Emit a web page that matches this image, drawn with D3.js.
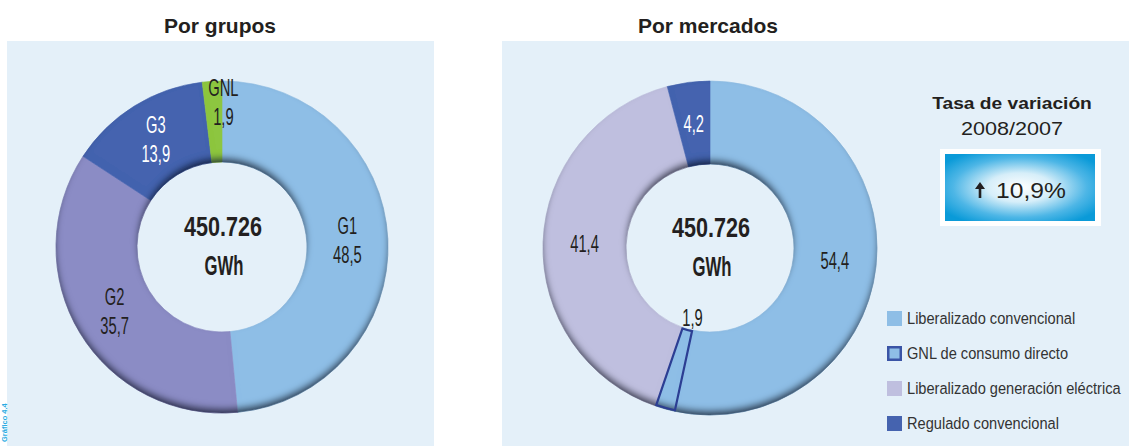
<!DOCTYPE html>
<html>
<head>
<meta charset="utf-8">
<script src="https://cdn.jsdelivr.net/npm/d3@7"></script>
<style>
  html, body { margin: 0; padding: 0; background: #ffffff; overflow: hidden; }
  text { font-family: "Liberation Sans", Arial, sans-serif; }
</style>
</head>
<body>
<svg id="chart" width="1129" height="446"></svg>
<script>
// Gas demand, share by supplier group (%)
const groupNames  = ["G1", "G2", "G3", "GNL"];
const groupShares = [48.5, 35.7, 13.9, 1.9];

// Gas demand, share by market (%)
const marketNames  = ["Liberalizado convencional", "GNL de consumo directo",
                      "Liberalizado generación eléctrica", "Regulado convencional"];
const marketShares = [54.4, 1.9, 41.4, 4.2];

// Totals and year-on-year change
const totalGWh      = 450726;
const totalUnit     = "GWh";
const variationRate = 10.9;
const variationTitle  = "Tasa de variación";
const variationPeriod = "2008/2007";

const panelTitles = ["Por grupos", "Por mercados"];
const sideCaption = "Gráfico 4.4";

// Spanish number formatting (decimal comma, dot thousands)
const es = d3.formatLocale({ decimal: ",", thousands: ".", grouping: [3], currency: ["", " €"] });
const fmtShare = es.format(",.1f");
const fmtTotal = es.format(",d");

const W = 1129, H = 446;
const svg = d3.select("#chart");
const defs = svg.append("defs");

// Inner bevel: darkens the ring just above any edge that faces down
const bevel = defs.append("filter").attr("id", "bevel")
  .attr("x", "-20%").attr("y", "-20%").attr("width", "140%").attr("height", "140%");
bevel.append("feComponentTransfer").attr("in", "SourceAlpha").attr("result", "inv")
  .append("feFuncA").attr("type", "table").attr("tableValues", "1 0");
bevel.append("feOffset").attr("in", "inv").attr("dx", 0).attr("dy", -5).attr("result", "off");
bevel.append("feGaussianBlur").attr("in", "off").attr("stdDeviation", 3).attr("result", "blur");
bevel.append("feFlood").attr("flood-color", "#0d1b36").attr("flood-opacity", 0.9).attr("result", "col");
bevel.append("feComposite").attr("in", "col").attr("in2", "blur").attr("operator", "in").attr("result", "sh");
bevel.append("feComposite").attr("in", "sh").attr("in2", "SourceAlpha").attr("operator", "in").attr("result", "inner");
const merge = bevel.append("feMerge");
merge.append("feMergeNode").attr("in", "SourceGraphic");
merge.append("feMergeNode").attr("in", "inner");

// Glow for the variation badge
const glow = defs.append("radialGradient").attr("id", "badgeGlow")
  .attr("cx", "50%").attr("cy", "50%").attr("r", "62%");
glow.append("stop").attr("offset", "0%").attr("stop-color", "#ffffff");
glow.append("stop").attr("offset", "35%").attr("stop-color", "#d6eef9");
glow.append("stop").attr("offset", "72%").attr("stop-color", "#4db6e6");
glow.append("stop").attr("offset", "100%").attr("stop-color", "#0a9ad8");

const BG = "#e4f0f9";
const INK = "#231f20";

// Panels
svg.append("rect").attr("x", 7).attr("y", 41).attr("width", 427).attr("height", H - 41).attr("fill", BG);
svg.append("rect").attr("x", 502).attr("y", 41).attr("width", W - 502).attr("height", H - 41).attr("fill", BG);

// Panel titles
[[220, panelTitles[0]], [708, panelTitles[1]]].forEach(([x, t]) => {
  svg.append("text").attr("x", x).attr("y", 33).attr("text-anchor", "middle")
    .attr("font-size", 21).attr("font-weight", "bold").attr("fill", INK).text(t);
});

// Side caption in the left margin
svg.append("text")
  .attr("transform", "translate(6.5,442) rotate(-90)")
  .attr("font-size", 7.5).attr("font-weight", "bold").attr("fill", "#29abe2")
  .text(sideCaption);

// Condensed text helper: horizontal squeeze around the anchor point
function squeezed(parent, x, y, str, opts) {
  const g = parent.append("g").attr("transform", `translate(${x},${y})`);
  g.append("text")
    .attr("transform", `scale(${opts.sx},1)`)
    .attr("text-anchor", opts.anchor || "middle")
    .attr("font-size", opts.size)
    .attr("font-weight", opts.weight || "normal")
    .attr("fill", opts.fill || INK)
    .text(str);
  return g;
}

function donut(cfg) {
  const g = svg.append("g").attr("transform", `translate(${cfg.cx},${cfg.cy})`);
  const pie = d3.pie().sort(null).value(d => d.value).startAngle(0).endAngle(2 * Math.PI);
  const data = cfg.names.map((n, i) => ({ name: n, value: cfg.values[i], color: cfg.colors[i], i }));
  const arcs = pie(data);
  const total = d3.sum(cfg.values);
  const arc = d3.arc().innerRadius(cfg.ri).outerRadius(cfg.ro);

  const ring = g.append("g").attr("filter", "url(#bevel)");
  ring.selectAll("path").data(arcs).join("path")
    .attr("d", arc)
    .attr("fill", d => d.data.color)
    .attr("stroke", d => d.data.color)
    .attr("stroke-width", 0.6);

  // Outlined slices
  g.selectAll("path.outline").data(arcs.filter(d => cfg.outlined.includes(d.data.i))).join("path")
    .attr("class", "outline")
    .attr("d", d3.arc().innerRadius(cfg.ri + 1).outerRadius(cfg.ro - 1))
    .attr("fill", "none").attr("stroke", "#2c3e93").attr("stroke-width", 2.2);

  // Slice labels
  const midR = (cfg.ri + cfg.ro) / 2;
  arcs.forEach(d => {
    const share = d.value / total;
    const a = (d.startAngle + d.endAngle) / 2;
    let r = midR, dx = 0;
    if (share < 0.03) { r = cfg.smallR; dx = cfg.smallDx; }
    const x = r * Math.sin(a) + dx;
    const y = -r * Math.cos(a);
    const fill = cfg.lightText.includes(d.data.i) ? "#ffffff" : INK;
    const lbl = { sx: 0.64, size: 23, fill };
    if (cfg.showNames) {
      squeezed(g, x, y - 7, d.data.name, lbl);
      squeezed(g, x, y + 22, fmtShare(d.data.value), lbl);
    } else {
      squeezed(g, x, y + 8, fmtShare(d.data.value), lbl);
    }
  });

  // Total in the hole
  squeezed(g, 1, -11, fmtTotal(totalGWh), { sx: 0.8, size: 27, weight: "bold" });
  squeezed(g, 2, 28, totalUnit, { sx: 0.62, size: 27, weight: "bold" });
}

donut({
  cx: 222, cy: 247, ri: 85, ro: 166,
  names: groupNames, values: groupShares,
  colors: ["#8ebee6", "#8b8cc5", "#4563af", "#8dc641"],
  lightText: [2], outlined: [],
  showNames: true, smallR: 144, smallDx: 10
});

donut({
  cx: 710, cy: 248, ri: 84, ro: 167,
  names: marketNames, values: marketShares,
  colors: ["#8ebee6", "#8ebee6", "#bfbfdf", "#4563af"],
  lightText: [3], outlined: [1],
  showNames: false, smallR: 73, smallDx: 2
});

// Legend
const legendColors = ["#8ebee6", "#8ebee6", "#bfbfdf", "#4563af"];
const legend = svg.append("g").attr("transform", "translate(887,311)");
marketNames.forEach((n, i) => {
  const row = legend.append("g").attr("transform", `translate(0,${i * 35})`);
  if (i === 1) {
    row.append("rect").attr("x", 1.25).attr("y", 1.25).attr("width", 12.5).attr("height", 12.5)
      .attr("fill", legendColors[i]).attr("stroke", "#3a54a6").attr("stroke-width", 2.5);
  } else {
    row.append("rect").attr("width", 15).attr("height", 15).attr("fill", legendColors[i]);
  }
  squeezed(row, 20, 13, n, { sx: 0.86, size: 17, anchor: "start", fill: "#333333" });
});

// Year-on-year change badge
squeezed(svg, 1012, 109, variationTitle, { sx: 1.13, size: 17, weight: "bold" });
squeezed(svg, 1012, 135, variationPeriod, { sx: 1.2, size: 18 });
svg.append("rect").attr("x", 940).attr("y", 149).attr("width", 161).attr("height", 77).attr("fill", "#ffffff");
svg.append("rect").attr("x", 945).attr("y", 154).attr("width", 150).attr("height", 67).attr("fill", "url(#badgeGlow)");
svg.append("path")
  .attr("d", "M980,182 L985,189 L981.3,189 L981.3,198 L978.7,198 L978.7,189 L975,189 Z")
  .attr("fill", INK);
squeezed(svg, 996, 198, fmtShare(variationRate) + "%", { sx: 1.12, size: 22, anchor: "start" });
</script>
</body>
</html>
